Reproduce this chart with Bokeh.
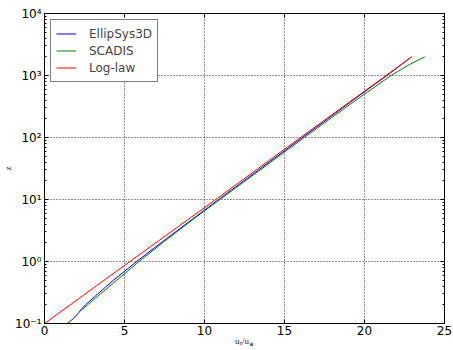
from bokeh.plotting import figure
from bokeh.models import (FixedTicker, LinearAxis, LogAxis, Legend, LegendItem,
                          CustomJSTickFormatter)
from bokeh.embed import file_html
from bokeh.resources import INLINE

# ---- data ----
z_log = [0.1, 1, 10, 100, 1000, 2000]
u_log = [0.0, 5.34, 10.7, 16.0, 21.35, 22.95]

z_ell = [0.1, 0.12, 0.15, 0.17, 0.2, 0.3, 0.5, 1, 2, 5, 10, 30, 100, 300, 1000, 2000]
u_ell = [1.42, 1.8, 2.15, 2.3, 2.56, 3.33, 4.31, 5.76, 7.28, 9.33, 10.88, 13.38, 16.12, 18.63, 21.4, 22.95]

z_sca = [0.16, 0.2, 0.3, 0.5, 1, 2, 5, 10, 30, 100, 300, 500, 1000, 1500, 2000]
u_sca = [2.25, 2.69, 3.5, 4.52, 5.91, 7.37, 9.39, 10.96, 13.48, 16.24, 18.79, 20.0, 21.66, 22.8, 23.77]

x_ticks = [0, 5, 10, 15, 20, 25]
y_ticks = [0.1, 1, 10, 100, 1000, 10000]
y_tick_labels = ["10\u207b\u00b9", "10\u2070", "10\u00b9", "10\u00b2", "10\u00b3", "10\u2074"]
y_minor = [k * 10.0 ** e for e in range(-1, 4) for k in range(2, 10)]

series_names = ["EllipSys3D", "SCADIS", "Log-law"]
series_colors = ["#0000ff", "#008000", "#ff0000"]

p = figure(width=453, height=350, y_axis_type="log", x_range=(0, 25), y_range=(0.1, 1e4),
           output_backend="svg", toolbar_location=None,
           min_border_left=44, min_border_right=9, min_border_top=13, min_border_bottom=27)
p.background_fill_color = "white"
p.border_fill_color = "white"
p.outline_line_color = "black"
p.outline_line_width = 1

xt = FixedTicker(ticks=x_ticks, minor_ticks=[])
yt = FixedTicker(ticks=y_ticks, minor_ticks=y_minor)

def style_axis(ax, ticker):
    ax.ticker = ticker
    ax.axis_line_color = "black"
    ax.major_tick_in = 4
    ax.major_tick_out = 0
    ax.minor_tick_in = 2
    ax.minor_tick_out = 0
    ax.major_tick_line_color = "black"
    ax.minor_tick_line_color = "black"
    ax.major_label_text_font = "DejaVu Sans"
    ax.major_label_text_font_size = "12px"
    ax.major_label_text_color = "black"
    ax.axis_label_text_font = "Liberation Serif"
    ax.axis_label_text_font_size = "9px"
    ax.axis_label_text_font_style = "normal"
    ax.axis_label_text_color = "#222222"

xa = p.xaxis[0]
style_axis(xa, xt)
xa.major_label_standoff = 2
xa.axis_label = "u\u2093/u\u204e"
xa.axis_label_standoff = -2
ya = p.yaxis[0]
style_axis(ya, yt)
ya.major_label_standoff = 3
ya.major_label_overrides = {t: s for t, s in zip(y_ticks, y_tick_labels)}
ya.axis_label = "z"
ya.axis_label_standoff = -1

empty = CustomJSTickFormatter(code="return ''")
top = LinearAxis(formatter=empty)
style_axis(top, xt)
right = LogAxis(formatter=empty)
style_axis(right, yt)
for ax in (top, right):
    ax.major_label_standoff = 0
    ax.major_label_text_font_size = "0px"
p.add_layout(top, "above")
p.add_layout(right, "right")

for g, t in ((p.xgrid[0], xt), (p.ygrid[0], yt)):
    g.ticker = t
    g.grid_line_color = "black"
    g.grid_line_dash = "1 2"
    g.grid_line_width = 1
    g.grid_line_alpha = 0.85

r1 = p.line(u_ell, z_ell, line_color=series_colors[0], line_width=1)
r2 = p.line(u_sca, z_sca, line_color=series_colors[1], line_width=1)
r3 = p.line(u_log, z_log, line_color=series_colors[2], line_width=1)

legend = Legend(items=[LegendItem(label=series_names[0], renderers=[r1]),
                       LegendItem(label=series_names[1], renderers=[r2]),
                       LegendItem(label=series_names[2], renderers=[r3])],
                location="top_left", margin=6, padding=5, spacing=0,
                label_height=17, glyph_height=17, glyph_width=20, label_standoff=13,
                label_text_font="DejaVu Sans", label_text_font_size="12px",
                border_line_color="black", border_line_width=1,
                background_fill_color="white", background_fill_alpha=1)
p.add_layout(legend)

open("out.html", "w").write(file_html(p, INLINE))
